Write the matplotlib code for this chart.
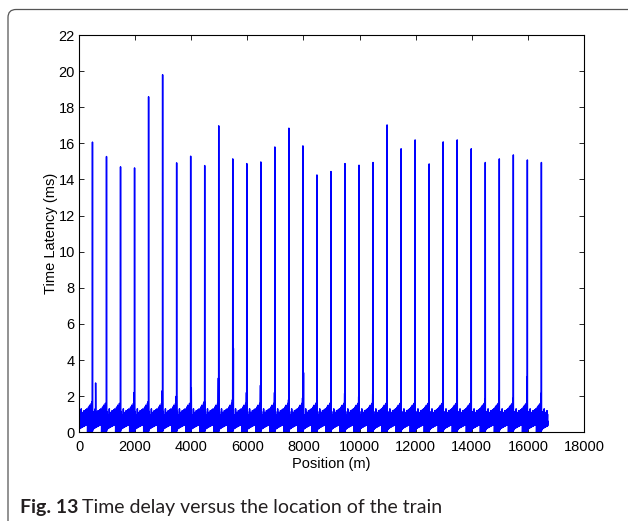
import numpy as np
import matplotlib
matplotlib.use('Agg')
from matplotlib import pyplot as plt
from matplotlib.patches import FancyBboxPatch
from matplotlib.transforms import IdentityTransform

# main spikes: position (m) and latency (ms)
spike_pos = [480, 980, 1480, 1980, 2480, 2980, 3480, 3980, 4480, 4980, 5480,
             5980, 6480, 6980, 7480, 7980, 8480, 8980, 9480, 9980, 10480,
             10980, 11480, 11980, 12480, 12980, 13480, 13980, 14480, 14980,
             15480, 15980, 16480]
spike_val = [16.07, 15.27, 14.70, 14.64, 18.58, 19.80, 14.92, 15.29, 14.77,
             16.97, 15.14, 14.88, 14.97, 15.80, 16.84, 15.86, 14.25, 14.44,
             14.88, 14.79, 14.94, 17.02, 15.70, 16.19, 14.86, 16.08, 16.19,
             15.70, 14.94, 15.14, 15.36, 15.08, 14.94]
# small peak at the foot of every spike
base_peak = [1.7, 1.6, 1.4, 2.2, 1.7, 2.3, 2.0, 1.6, 1.7, 3.0, 1.8, 2.2, 2.6,
             2.2, 1.8, 1.9, 1.65, 1.65, 2.16, 1.97, 2.12, 1.7, 1.75, 1.6,
             1.97, 1.85, 1.4, 2.07, 1.85, 2.3, 1.88, 3.08, 2.16]
# a few taller secondary peaks
extra_pos = [0, 590, 4000, 5500, 8000]
extra_val = [2.7, 2.73, 2.47, 4.65, 3.3]

# latency band between two spikes (offset from previous spike, upper / lower)
seg_off = [10, 25, 40, 60, 80, 100, 120, 140, 160, 180, 200, 220, 240, 260,
           280, 300, 320, 340, 360, 380, 400, 420, 440, 460]
seg_hi = [0.85, 1.15, 0.9, 0.95, 0.9, 1.3, 1.0, 1.1, 0.95, 1.05, 1.2, 1.0,
          1.1, 1.25, 1.1, 1.3, 1.2, 1.15, 1.4, 1.3, 1.5, 1.3, 1.45, 1.6]
seg_lo = [0.12, 0.18, 0.2, 0.22, 0.24, 0.26, 0.28, 0.3, 0.31, 0.33, 0.35,
          0.36, 0.38, 0.4, 0.42, 0.43, 0.0, 0.0, 0.0, 0.0, 0.0, 0.0, 0.0, 0.0]
end_pos, end_val = 16714, 0.6

pts = []
prev_list = [-20] + spike_pos
for i, prev in enumerate(prev_list):
    nxt = spike_pos[i] if i < len(spike_pos) else end_pos
    for o, hi, lo in zip(seg_off, seg_hi, seg_lo):
        x = prev + o
        if x < 0 or x > nxt - 12:
            continue
        pts.append((x, hi))
        pts.append((x + 6, lo))
    if i < len(spike_pos):
        pts.append((nxt - 12, base_peak[i]))
        pts.append((nxt - 4, 0.0))
        pts.append((nxt, spike_val[i]))
        pts.append((nxt + 4, 0.2))
pts.append((end_pos, end_val))
for x, y in zip(extra_pos, extra_val):
    pts.append((x + 2, y))
pts.sort()
px = [p[0] for p in pts]
py = [p[1] for p in pts]

plt.rcParams['font.family'] = ['Liberation Sans', 'DejaVu Sans']
fig = plt.figure(figsize=(6.28, 5.21), dpi=100)
ax = fig.add_axes([0.1258, 0.1703, 0.8042, 0.7625])
ax.plot(px, py, color='#0000ff', lw=1.05)
ax.set_xlim(0, 18000)
ax.set_ylim(0, 22)
ax.set_xticks(np.arange(0, 18001, 2000))
ax.set_yticks(np.arange(0, 23, 2))
ax.tick_params(direction='in', top=True, right=True, length=3.6, width=0.6,
               labelsize=10.5)
ax.tick_params(axis='x', pad=5.5)
ax.tick_params(axis='y', pad=3)
for s in ax.spines.values():
    s.set_linewidth(0.8)
ax.set_xlabel('Position (m)', fontsize=10.5, labelpad=2)
ax.set_ylabel('Time Latency (ms)', fontsize=10.5, labelpad=0)

# rounded frame around the figure
frame = FancyBboxPatch((8, -60), 700, 571.5, boxstyle='round,pad=0,rounding_size=8',
                       transform=IdentityTransform(), fill=False,
                       edgecolor='#555555', lw=0.9)
fig.patches.append(frame)

# caption
r = fig.canvas.get_renderer()
t1 = fig.text(20 / 628, 8 / 521, 'Fig. 13', fontsize=14, fontweight='bold',
              family=['Lato', 'DejaVu Sans'], color='#231f20')
w = t1.get_window_extent(r).width
fig.text((20 + w + 4) / 628, 8 / 521, 'Time delay versus the location of the train',
         fontsize=14, family=['Lato', 'DejaVu Sans'], color='#231f20')

fig.savefig('out.png', dpi=100)
